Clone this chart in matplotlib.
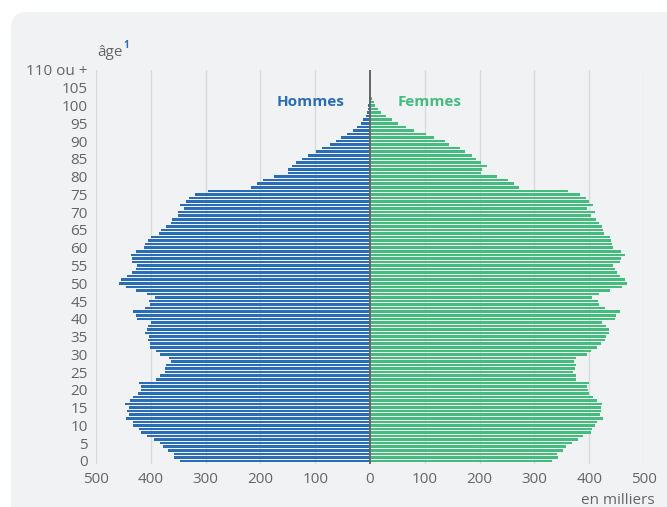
import matplotlib
matplotlib.use("Agg")
import matplotlib.pyplot as plt
from matplotlib.patches import FancyBboxPatch
import numpy as np

plt.rcParams['font.family'] = ['Open Sans', 'DejaVu Sans']

ages = list(range(0, 103))

# Hommes (en milliers), ages 0..102
hommes = [347, 358, 358, 369, 378, 383, 394, 407, 418, 422,
          432, 432, 445, 440, 443, 440, 447, 438, 432, 423,
          418, 418, 422, 390, 383, 374, 374, 372, 363, 367,
          383, 390, 401, 401, 405, 403, 411, 407, 405, 400,
          425, 427, 432, 411, 401, 403, 392, 407, 427, 445,
          458, 454, 443, 434, 427, 425, 434, 434, 436, 427,
          412, 411, 405, 400, 385, 381, 372, 363, 361, 350,
          350, 339, 347, 336, 330, 319, 296, 217, 206, 195,
          175, 150, 150, 142, 135, 124, 113, 99, 88, 73,
          62, 53, 42, 31, 24, 16, 13, 7, 5.5, 4,
          3, 2, 1]

# Femmes (en milliers), ages 0..102
femmes = [332, 343, 341, 352, 358, 369, 380, 389, 403, 405,
          411, 414, 425, 420, 422, 422, 424, 414, 407, 400,
          398, 396, 400, 376, 376, 370, 374, 376, 372, 376,
          396, 403, 414, 422, 429, 431, 436, 436, 431, 423,
          447, 449, 457, 429, 418, 416, 405, 418, 438, 460,
          469, 466, 457, 451, 447, 444, 457, 458, 466, 458,
          444, 442, 440, 438, 427, 426, 424, 418, 413, 403,
          411, 396, 407, 400, 394, 383, 361, 271, 262, 251,
          231, 202, 205, 213, 202, 193, 187, 174, 165, 145,
          136, 117, 103, 81, 66, 51, 40, 29, 20, 15,
          9, 7, 3]

xticks = [-500, -400, -300, -200, -100, 0, 100, 200, 300, 400, 500]
xticklabels = ["500", "400", "300", "200", "100", "0", "100", "200", "300", "400", "500"]
yticks = list(range(0, 111, 5))
yticklabels = [str(v) for v in range(0, 110, 5)] + ["110 ou +"]

blue = "#2b6db5"
green = "#45bc7e"
grey_text = "#636669"
card = "#f1f2f4"

fig = plt.figure(figsize=(6.67, 5.07), dpi=100)
fig.patch.set_facecolor("white")

# card background
cardp = FancyBboxPatch((11 / 667, -0.1), (667 - 11) / 667 + 0.05, (507 - 12) / 507 + 0.1,
                       boxstyle="round,pad=0,rounding_size=0.025",
                       transform=fig.transFigure, facecolor=card, edgecolor="none",
                       mutation_aspect=667 / 507, zorder=-5)
fig.add_artist(cardp)

ax = fig.add_axes([96 / 667, (507 - 464) / 507, (644 - 96) / 667, (464 - 70) / 507])
ax.set_facecolor("none")
ax.set_zorder(2)

ax.barh(ages, [-h for h in hommes], height=0.72, color=blue, linewidth=0, zorder=2)
ax.barh(ages, femmes, height=0.72, color=green, linewidth=0, zorder=2)

ax.set_xlim(-500, 500)
ax.set_ylim(-0.85, 110)

for x in xticks:
    if x != 0:
        ax.axvline(x, color="#d8dadd", linewidth=1.0, zorder=1)
ax.axvline(0, color="#666666", linewidth=1.4, zorder=3)

ax.set_xticks(xticks)
ax.set_xticklabels(xticklabels)
ax.set_yticks(yticks)
ax.set_yticklabels(yticklabels)
ax.tick_params(axis="both", length=0, labelsize=11, labelcolor=grey_text)
ax.tick_params(axis="y", pad=6)
ax.tick_params(axis="x", pad=5.5)
for s in ax.spines.values():
    s.set_visible(False)

ax.text(-46, 101, "Hommes", color=blue, fontsize=11, fontweight="bold",
        ha="right", va="center", zorder=4)
ax.text(51, 101, "Femmes", color=green, fontsize=11, fontweight="bold",
        ha="left", va="center", zorder=4)

fig.text(97 / 667, 1 - 52 / 507, "âge", color=grey_text, fontsize=11, ha="left", va="center")
fig.text(123 / 667, 1 - 46 / 507, "1", color=blue, fontsize=7, fontweight="bold",
         ha="left", va="center")
fig.text(655 / 667, 1 - 500 / 507, "en milliers", color=grey_text, fontsize=11,
         ha="right", va="center")

fig.savefig("out.png", dpi=100, facecolor="white")
